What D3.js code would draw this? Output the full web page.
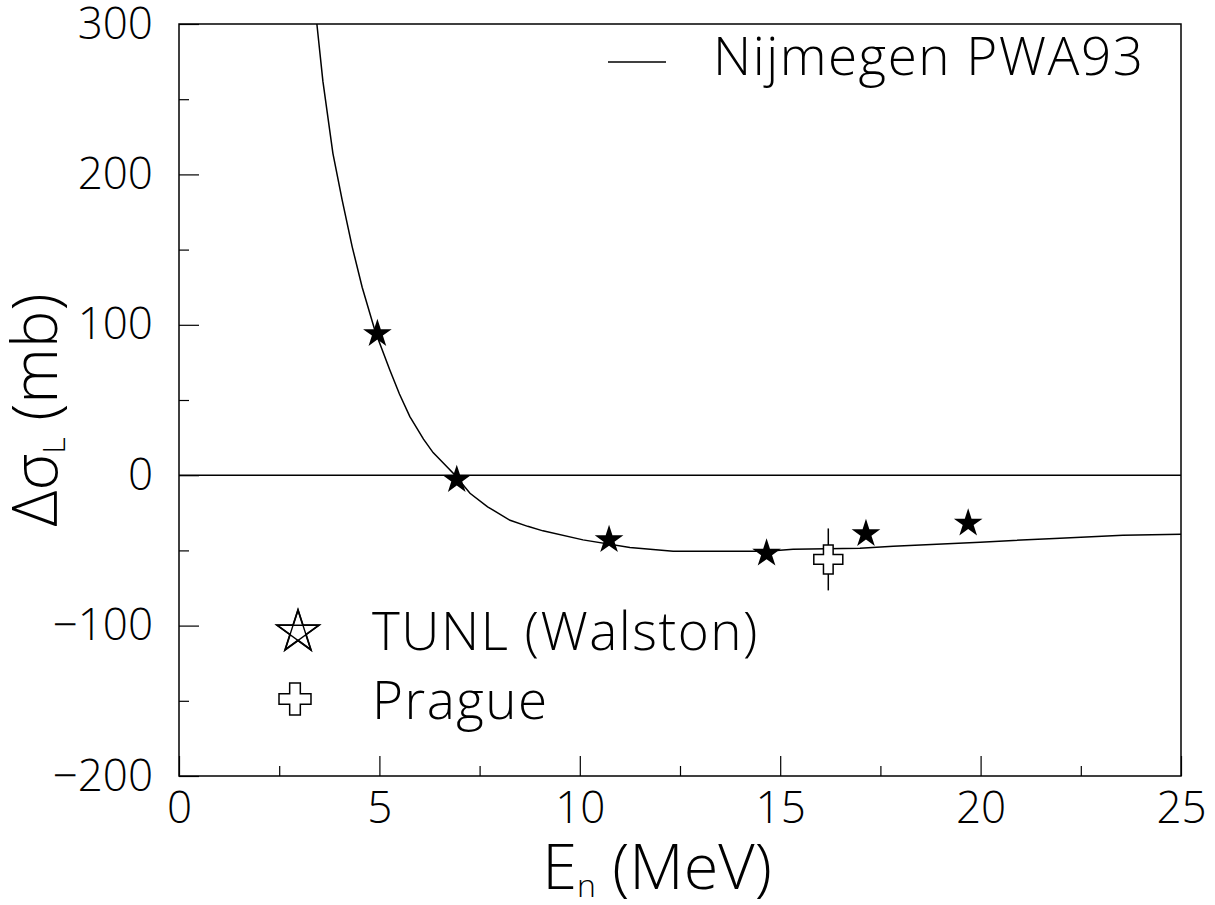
<!DOCTYPE html>
<html>
<head>
<meta charset="utf-8">
<script src="https://cdn.jsdelivr.net/npm/d3@7"></script>
<style>
  body { margin: 0; background: #fff; }
  text { font-family: "Open Sans", "Liberation Sans", Arial, sans-serif; font-weight: 300; fill: #000; }
</style>
</head>
<body>
<div id="chart"></div>
<script>
// Nijmegen PWA93 curve (E in MeV, delta sigma_L in mb)
const pwaE = [3.44, 3.59, 3.84, 4.07, 4.32, 4.57, 4.89, 5.26, 5.5, 5.76, 6.1, 6.34, 6.89, 7.26, 7.7, 8.26, 8.7, 9.08, 10.08, 11.25, 12.33, 14.67, 15.32, 16.99, 17.82, 19.99, 21.98, 23.55, 25.0];
const pwaSigma = [300, 262, 214, 183, 152, 125, 96, 70, 54, 39, 24, 15, 0, -12, -21, -30, -34, -37, -43, -48, -50.5, -50.5, -49.2, -48.5, -47.2, -44.5, -41.9, -39.9, -39.2];

// TUNL (Walston) data points
const tunlE = [4.95, 6.93, 10.73, 14.66, 17.14, 19.69];
const tunlSigma = [94, -3, -43, -52, -39, -32];

// Prague data point
const pragueE = [16.2];
const pragueSigma = [-56];
const pragueErr = [20.6];

const xMajor = [0, 5, 10, 15, 20, 25];
const xMinor = [2.5, 7.5, 12.5, 17.5, 22.5];
const yMajor = [-200, -100, 0, 100, 200, 300];
const yMinor = [-150, -50, 50, 150, 250];

const margin = { top: 24, right: 34, bottom: 129, left: 179 },
  width = 1215 - margin.left - margin.right,
  height = 905 - margin.top - margin.bottom;

const svg = d3.select("#chart")
  .append("svg")
  .attr("width", 1215)
  .attr("height", 905)
  .append("g")
  .attr("transform", "translate(" + margin.left + "," + margin.top + ")");

const x = d3.scaleLinear().domain([0, 25]).range([0, width]);
const y = d3.scaleLinear().domain([-200, 300]).range([height, 0]);

const fmt = d => d < 0 ? "\u2212" + Math.abs(d) : String(d);

// major and minor ticks, drawn inward
svg.append("g")
  .attr("transform", "translate(0," + height + ")")
  .call(d3.axisBottom(x).tickValues(xMajor).tickSize(-20).tickPadding(16).tickFormat(fmt))
  .call(g => g.select(".domain").remove())
  .selectAll("text").attr("font-size", 44).attr("font-family", null);

svg.append("g")
  .attr("transform", "translate(0," + height + ")")
  .call(d3.axisBottom(x).tickValues(xMinor).tickSize(-10).tickFormat(""))
  .call(g => g.select(".domain").remove());

svg.append("g")
  .call(d3.axisLeft(y).tickValues(yMajor).tickSize(-20).tickPadding(26).tickFormat(fmt))
  .call(g => g.select(".domain").remove())
  .selectAll("text").attr("font-size", 44).attr("font-family", null);

svg.append("g")
  .call(d3.axisLeft(y).tickValues(yMinor).tickSize(-10).tickFormat(""))
  .call(g => g.select(".domain").remove());

svg.selectAll(".tick line").attr("stroke", "#000").attr("stroke-width", 1.2);

// frame
svg.append("rect")
  .attr("width", width)
  .attr("height", height)
  .attr("fill", "none")
  .attr("stroke", "#000")
  .attr("stroke-width", 1.5);

// zero line
svg.append("line")
  .attr("x1", 0).attr("x2", width)
  .attr("y1", y(0)).attr("y2", y(0))
  .attr("stroke", "#000")
  .attr("stroke-width", 1.5);

// PWA curve
const pwa = pwaE.map((e, i) => [e, pwaSigma[i]]);
svg.append("path")
  .datum(pwa)
  .attr("fill", "none")
  .attr("stroke", "#000")
  .attr("stroke-width", 1.5)
  .attr("d", d3.line().x(d => x(d[0])).y(d => y(d[1])));

// Prague error bar then cross
pragueE.forEach((e, i) => {
  svg.append("line")
    .attr("x1", x(e)).attr("x2", x(e))
    .attr("y1", y(pragueSigma[i] + pragueErr[i]))
    .attr("y2", y(pragueSigma[i] - pragueErr[i]))
    .attr("stroke", "#000")
    .attr("stroke-width", 1.5);
  svg.append("path")
    .attr("transform", "translate(" + x(e) + "," + y(pragueSigma[i]) + ")")
    .attr("d", d3.symbol(d3.symbolCross, 467)())
    .attr("fill", "#fff")
    .attr("stroke", "#000")
    .attr("stroke-width", 1.5);
});

// TUNL stars
svg.selectAll(".tunl")
  .data(tunlE.map((e, i) => [e, tunlSigma[i]]))
  .join("path")
  .attr("class", "tunl")
  .attr("transform", d => "translate(" + x(d[0]) + "," + y(d[1]) + ")")
  .attr("d", d3.symbol(d3.symbolStar, 255)())
  .attr("fill", "#000");

// legend: Nijmegen PWA93
svg.append("line")
  .attr("x1", 608 - margin.left).attr("x2", 666 - margin.left)
  .attr("y1", 62 - margin.top).attr("y2", 62 - margin.top)
  .attr("stroke", "#000").attr("stroke-width", 1.5);
svg.append("text")
  .attr("x", 713 - margin.left).attr("y", 75 - margin.top)
  .attr("font-size", 53)
  .attr("letter-spacing", 1.5)
  .text("Nijmegen PWA93");

// legend: TUNL open star with pentagram
const lx = 298 - margin.left, ly = 632 - margin.top, R = 22;
const pts = d3.range(5).map(k => {
  const a = -Math.PI / 2 + k * 2 * Math.PI / 5;
  return [lx + R * Math.cos(a), ly + R * Math.sin(a)];
});
svg.append("path")
  .attr("transform", "translate(" + lx + "," + ly + ")")
  .attr("d", d3.symbol(d3.symbolStar, R * R / 0.8908)())
  .attr("fill", "none").attr("stroke", "#000").attr("stroke-width", 1.8);
svg.append("path")
  .attr("d", "M" + [0, 2, 4, 1, 3].map(k => pts[k].join(",")).join("L") + "Z")
  .attr("fill", "none").attr("stroke", "#000").attr("stroke-width", 1.4);
svg.append("text")
  .attr("x", 372 - margin.left).attr("y", 650 - margin.top)
  .attr("font-size", 53)
  .attr("letter-spacing", 1.5)
  .text("TUNL (Walston)");

// legend: Prague cross
svg.append("path")
  .attr("transform", "translate(" + (295 - margin.left) + "," + (699 - margin.top) + ")")
  .attr("d", d3.symbol(d3.symbolCross, 568)())
  .attr("fill", "#fff").attr("stroke", "#000").attr("stroke-width", 1.5);
svg.append("text")
  .attr("x", 372 - margin.left).attr("y", 719 - margin.top)
  .attr("font-size", 53)
  .attr("letter-spacing", 1.5)
  .text("Prague");

// x axis title
const xt = svg.append("text")
  .attr("x", width / 2 - 23)
  .attr("y", 889 - margin.top)
  .attr("text-anchor", "middle")
  .attr("font-size", 63);
xt.append("tspan").text("E");
xt.append("tspan").attr("font-size", 32).attr("dy", 8).text("n");
xt.append("tspan").attr("dy", -8).text(" (MeV)");

// y axis title
const yt = svg.append("text")
  .attr("transform", "translate(" + (57 - margin.left) + "," + (410 - margin.top) + ") rotate(-90)")
  .attr("text-anchor", "middle")
  .attr("font-size", 63);
yt.append("tspan").text("\u0394\u03c3");
yt.append("tspan").attr("font-size", 32).attr("dy", 8).text("L");
yt.append("tspan").attr("dy", -8).text(" (mb)");
</script>
</body>
</html>
